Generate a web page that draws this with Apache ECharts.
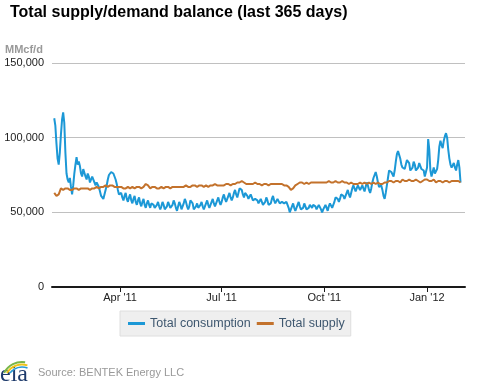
<!DOCTYPE html>
<html>
<head>
<meta charset="utf-8">
<script src="https://cdn.jsdelivr.net/npm/echarts@6/dist/echarts.min.js"></script>
<style>
html,body{margin:0;padding:0;background:#fff;}
#chart{width:480px;height:385px;}
</style>
</head>
<body>
<div id="chart"></div>
<script>
// ---- Data (MMcf/d), daily from 1 Feb 2011 to 31 Jan 2012 ----
const startDate = Date.UTC(2011, 1, 1);
const seriesNames = ['Total consumption', 'Total supply'];
const tickDates = [Date.UTC(2011,3,1), Date.UTC(2011,6,1), Date.UTC(2011,9,1), Date.UTC(2012,0,1)];
const tickLabels = ["Apr '11", "Jul '11", "Oct '11", "Jan '12"];
const yTicks = [0, 50000, 100000, 150000];

const consumption = [
// Feb
113000,108000,96000,86000,82000,90000,102000,112000,117000,110000,90000,76000,72000,70000,73000,67000,62000,68000,76000,82000,87000,82000,84000,81000,76000,74000,79000,80000,
// Mar
74000,72000,76000,74000,70000,71000,74000,73000,70000,68000,70000,71000,67000,64000,61000,60000,59000,62000,65000,68000,72000,75000,76000,77000,77000,76000,74000,72000,69000,65000,62000,
// Apr
61000,63000,60000,58000,61000,63000,59000,57000,60000,62000,58000,56000,59000,61000,57000,55000,58000,60000,56000,54000,57000,59000,55000,53000,56000,58000,55000,53000,56000,57000,
// May
55000,53000,52000,55000,57000,54000,52000,54000,57000,55000,52000,51000,54000,57000,56000,53000,52000,55000,58000,56000,53000,51000,54000,57000,55000,52000,53000,56000,59000,57000,54000,
// Jun
52000,54000,58000,59000,56000,52000,51000,54000,56000,53000,52000,55000,57000,54000,52000,53000,56000,58000,55000,53000,54000,57000,59000,56000,54000,55000,58000,60000,57000,55000,
// Jul
57000,60000,62000,59000,57000,58000,61000,63000,60000,58000,60000,63000,65000,62000,60000,63000,66000,67000,65000,62000,60000,63000,64000,61000,59000,60000,62000,61000,58000,57000,59000,
// Aug
60000,58000,56000,57000,59000,57000,55000,54000,57000,60000,58000,55000,54000,56000,59000,61000,58000,56000,57000,59000,58000,56000,55000,57000,58000,56000,55000,57000,56000,53000,50000,
// Sep
51000,54000,56000,53000,51000,52000,55000,57000,54000,52000,51000,53000,56000,55000,52000,51000,53000,55000,54000,53000,55000,56000,54000,52000,53000,55000,54000,52000,50000,52000,
// Oct
52000,55000,53000,51000,54000,56000,55000,53000,55000,57000,60000,61000,59000,57000,59000,62000,63000,61000,59000,60000,63000,65000,62000,60000,63000,66000,68000,66000,64000,66000,68000,
// Nov
67000,65000,66000,68000,66000,64000,67000,70000,68000,65000,63000,66000,70000,73000,75000,77000,74000,70000,67000,66000,68000,65000,61000,59000,63000,68000,73000,78000,79000,77000,
// Dec
76000,74000,78000,84000,89000,91000,90000,86000,82000,80000,81000,79000,82000,85000,86000,83000,78000,77000,80000,84000,82000,78000,77000,80000,83000,81000,79000,80000,78000,74000,73000,
// Jan
80000,99000,92000,78000,74000,77000,80000,76000,75000,79000,85000,94000,98000,95000,93000,98000,101000,103000,100000,92000,86000,82000,80000,79000,83000,80000,78000,82000,85000,80000,70000
];

const supply = [
// Feb
63000,62000,61000,61000,62000,64000,66000,66000,65000,66000,66000,65000,66000,66000,65000,66000,65000,66000,66000,65000,66000,66000,65000,66000,66000,65000,66000,66000,
// Mar
66000,65000,66000,66000,65000,66000,66000,67000,66000,66000,67000,66000,66000,67000,67000,66000,67000,67000,68000,68000,67000,68000,68000,69000,68000,68000,67000,68000,67000,67000,67000,
// Apr
66000,67000,66000,66000,67000,66000,66000,67000,66000,66000,67000,67000,66000,66000,67000,67000,66000,67000,67000,66000,67000,67000,68000,69000,70000,68000,67000,66000,66000,67000,
// May
66000,67000,66000,66000,67000,66000,67000,67000,66000,66000,67000,67000,66000,67000,67000,66000,67000,67000,66000,67000,67000,67000,66000,67000,67000,67000,66000,67000,67000,68000,67000,
// Jun
67000,68000,67000,67000,68000,67000,68000,68000,67000,68000,68000,67000,68000,68000,67000,68000,68000,68000,67000,68000,68000,69000,68000,68000,69000,68000,68000,69000,68000,69000,
// Jul
68000,69000,68000,69000,69000,68000,69000,69000,68000,69000,69000,70000,69000,69000,70000,69000,70000,70000,71000,71000,70000,69000,69000,70000,69000,69000,69000,70000,69000,69000,70000,
// Aug
69000,69000,68000,69000,69000,68000,69000,69000,68000,69000,69000,68000,69000,69000,68000,69000,69000,69000,68000,69000,69000,69000,68000,69000,69000,68000,69000,68000,68000,67000,66000,
// Sep
65000,65000,66000,67000,68000,69000,69000,69000,70000,69000,70000,70000,69000,70000,70000,70000,69000,70000,70000,71000,70000,70000,70000,71000,70000,70000,70000,71000,70000,70000,
// Oct
70000,71000,70000,70000,71000,70000,70000,71000,70000,70000,71000,70000,70000,71000,70000,70000,71000,71000,70000,71000,70000,69000,69000,69000,70000,69000,69000,70000,69000,69000,69000,
// Nov
69000,70000,69000,69000,69000,70000,69000,69000,69000,70000,69000,69000,69000,70000,69000,69000,69000,70000,69000,69000,70000,69000,70000,70000,69000,70000,70000,71000,70000,71000,
// Dec
71000,70000,71000,71000,70000,71000,71000,70000,71000,72000,71000,71000,70000,71000,71000,72000,71000,71000,70000,71000,71000,72000,71000,71000,71000,70000,71000,71000,72000,72000,71000,
// Jan
72000,73000,71000,70000,71000,71000,72000,71000,70000,71000,71000,72000,71000,71000,70000,71000,71000,72000,71000,71000,70000,71000,71000,72000,71000,71000,71000,70000,71000,71000,70000
];

// ---- Build chart (x = days since startDate) ----
const DAY = 86400000;
const dayOf = t => Math.round((t - startDate) / DAY);
const tickDays = tickDates.map(dayOf);
const toPairs = arr => arr.map((v, i) => [i, v]);
const fmtNum = v => String(v).replace(/\B(?=(\d{3})+(?!\d))/g, ',');

const chart = echarts.init(document.getElementById('chart'), null, {renderer: 'canvas'});
const FONT = 'Liberation Sans, Arial, sans-serif';

chart.setOption({
  animation: false,
  backgroundColor: '#ffffff',
  textStyle: {fontFamily: FONT},
  title: {
    text: 'Total supply/demand balance (last 365 days)',
    left: 5, top: 0,
    textStyle: {fontSize: 16, fontWeight: 'bold', color: '#000', fontFamily: FONT}
  },
  grid: {
    left: 52, right: 15, top: 63, bottom: 98,
    show: false
  },
  legend: {
    data: seriesNames,
    left: 120, top: 311,
    padding: [6, 6, 6, 8],
    itemGap: 6,
    itemWidth: 17, itemHeight: 3,
    icon: 'rect',
    backgroundColor: '#efefef',
    borderColor: '#dedede', borderWidth: 1,
    textStyle: {fontSize: 12.5, color: '#3e576f', fontFamily: FONT}
  },
  xAxis: {
    type: 'value',
    min: dayOf(Date.UTC(2011, 0, 30)),
    max: dayOf(Date.UTC(2012, 1, 4)),
    axisLine: {show: true, onZero: false, lineStyle: {color: '#1a1a1a', width: 2}},
    axisTick: {show: true, customValues: tickDays, length: 5, lineStyle: {color: '#1a1a1a', width: 1}},
    axisLabel: {
      customValues: tickDays,
      formatter: v => { const k = tickDays.indexOf(Math.round(v)); return k >= 0 ? tickLabels[k] : ''; },
      color: '#222', fontSize: 11, margin: 5, fontFamily: FONT
    },
    splitLine: {show: false}
  },
  yAxis: {
    type: 'value',
    min: yTicks[0], max: yTicks[yTicks.length - 1], interval: yTicks[1] - yTicks[0],
    axisLine: {show: false},
    axisTick: {show: false},
    axisLabel: {formatter: v => fmtNum(v), color: '#222', fontSize: 11, margin: 8, padding: [4, 0, 0, 0], fontFamily: FONT},
    splitLine: {lineStyle: {color: '#c0c0c0', width: 1}}
  },
  series: [
    {
      name: seriesNames[0], type: 'line', data: toPairs(consumption),
      showSymbol: false, symbol: 'none',
      lineStyle: {color: '#1c98d6', width: 2}, itemStyle: {color: '#1c98d6'}, z: 3
    },
    {
      name: seriesNames[1], type: 'line', data: toPairs(supply),
      showSymbol: false, symbol: 'none',
      lineStyle: {color: '#c3722c', width: 2}, itemStyle: {color: '#c3722c'}, z: 4
    }
  ],
  graphic: [
    {type: 'text', left: 5, top: 44, style: {text: 'MMcf/d', font: 'bold 11px ' + FONT, fill: '#999'}},
    {type: 'text', left: 38, top: 367, style: {text: 'Source: BENTEK Energy LLC', font: '11px ' + FONT, fill: '#999'}},
    {type: 'text', left: 0, top: 363, style: {text: 'eia', font: '24px Liberation Serif, serif', fill: '#1d3a6b'}},
    {type: 'arc', shape: {cx: 22, cy: 382, r: 20, startAngle: Math.PI * 1.15, endAngle: Math.PI * 1.55}, style: {stroke: '#7ab648', lineWidth: 2, fill: null}},
    {type: 'arc', shape: {cx: 22, cy: 382, r: 17.5, startAngle: Math.PI * 1.17, endAngle: Math.PI * 1.6}, style: {stroke: '#f0c419', lineWidth: 2, fill: null}},
    {type: 'arc', shape: {cx: 22, cy: 382, r: 15, startAngle: Math.PI * 1.2, endAngle: Math.PI * 1.62}, style: {stroke: '#2a9bd6', lineWidth: 1.5, fill: null}}
  ]
});
</script>
</body>
</html>
